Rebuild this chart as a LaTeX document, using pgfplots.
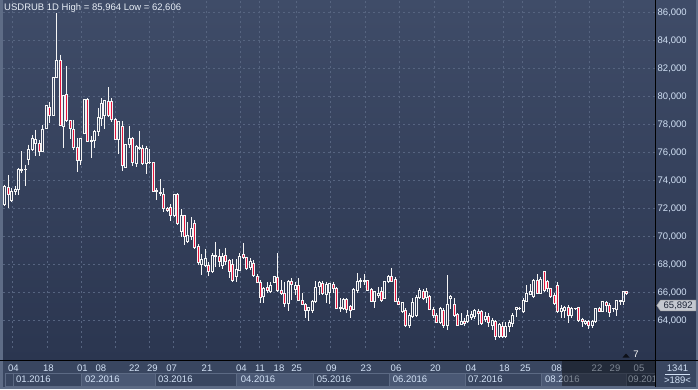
\documentclass[border=0pt]{standalone}
\usepackage{pgfplots}
\pgfplotsset{compat=1.18}
\usepackage{pgfplotstable}
\usepackage{fontspec}
\setmainfont{Liberation Sans}
\usetikzlibrary{shapes.symbols}
\definecolor{bgtop}{RGB}{63,76,104}
\definecolor{bgbot}{RGB}{43,54,80}
\definecolor{gridc}{RGB}{86,100,128}
\definecolor{panel}{RGB}{57,70,96}
\definecolor{boxlight}{RGB}{74,88,116}
\definecolor{boxedge}{RGB}{92,106,132}
\definecolor{framec}{RGB}{94,108,134}
\definecolor{labc}{RGB}{210,225,245}
\definecolor{cred}{RGB}{230,20,60}
\definecolor{cwhite}{RGB}{245,245,245}
\definecolor{pricebox}{RGB}{196,200,208}
\pgfplotstableread{
i O H L C
0 72.26 73.69 72.21 73.57
1 73.50 74.40 72.02 72.98
2 72.55 73.45 72.50 73.21
3 73.21 73.57 72.98 73.38
4 73.33 74.88 72.98 74.81
5 74.70 76.07 74.50 74.80
6 74.80 75.12 73.57 74.78
7 75.52 76.55 75.12 76.19
8 76.19 77.26 76.07 77.02
9 76.67 77.62 75.71 76.95
10 76.67 76.90 75.71 76.07
11 76.07 77.98 76.02 77.62
12 77.74 79.40 77.69 79.33
13 79.24 79.57 78.10 78.64
14 78.64 81.40 78.60 81.36
15 81.36 85.96 81.30 82.57
16 82.57 82.98 77.90 77.93
17 77.86 80.10 76.31 80.07
18 80.12 82.14 78.20 78.29
19 78.29 78.35 76.98 77.69
20 77.62 78.33 76.19 76.36
21 76.36 77.02 74.60 75.43
22 75.43 77.05 75.10 77.02
23 77.38 79.83 77.31 79.76
24 79.76 79.88 76.75 76.79
25 76.80 77.14 75.60 76.86
26 76.86 77.62 76.31 77.50
27 77.50 79.17 77.14 78.50
28 78.45 79.88 77.86 79.52
29 78.64 79.76 77.69 79.69
30 79.64 80.64 78.55 78.64
31 79.64 79.88 78.20 78.38
32 78.38 78.45 76.90 76.95
33 76.90 78.26 75.90 78.21
34 77.86 78.21 74.64 75.07
35 74.95 76.60 74.88 76.55
36 76.55 77.86 76.31 77.02
37 77.02 77.10 75.00 75.31
38 75.24 76.55 74.93 76.43
39 76.28 77.55 76.20 76.33
40 76.31 76.55 75.12 75.24
41 75.19 76.43 74.48 76.26
42 75.27 76.26 75.20 75.31
43 75.29 75.33 73.15 73.21
44 73.21 73.45 72.57 73.29
45 73.05 74.07 72.90 73.15
46 73.02 73.43 71.76 72.00
47 72.00 72.12 71.76 71.83
48 72.05 72.29 71.10 71.48
49 71.48 73.05 71.40 73.00
50 73.00 73.07 70.81 70.93
51 70.33 71.95 69.98 71.48
52 71.48 71.55 69.38 69.98
53 69.62 71.00 69.57 70.10
54 69.98 71.40 69.74 70.57
55 70.93 71.17 69.14 69.19
56 69.31 69.43 67.95 68.14
57 68.02 68.71 67.24 68.36
58 67.95 69.10 67.81 68.43
59 67.95 68.19 67.19 67.48
60 67.48 68.79 67.36 68.67
61 68.60 69.62 67.83 68.64
62 68.55 69.07 67.83 68.19
63 67.95 68.79 67.64 68.55
64 68.67 69.19 67.95 68.24
65 68.31 68.36 67.00 67.50
66 68.00 68.40 66.76 66.88
67 67.12 68.38 66.76 67.67
68 67.60 68.79 67.55 68.60
69 68.71 69.50 68.40 68.48
70 68.48 68.55 67.60 67.71
71 67.76 68.43 67.60 68.19
72 68.07 68.31 67.12 67.19
73 67.12 67.29 66.64 66.71
74 66.71 66.88 65.21 65.62
75 65.69 66.40 65.21 66.29
76 66.33 66.76 65.93 66.17
77 66.10 66.76 65.93 66.52
78 66.71 67.19 66.64 67.12
79 67.05 68.79 66.05 66.17
80 66.17 66.88 65.81 65.93
81 65.93 66.76 64.98 65.21
82 65.21 66.88 64.67 66.76
83 66.76 67.00 65.45 66.57
84 66.24 66.76 65.81 66.52
85 66.52 67.00 65.38 65.45
86 65.45 65.93 65.10 65.14
87 65.14 65.21 64.14 64.74
88 64.74 64.98 63.95 64.90
89 64.74 65.45 64.50 65.33
90 65.33 66.81 65.30 66.33
91 66.40 66.81 65.81 66.71
92 66.64 66.81 65.81 65.93
93 65.86 66.76 65.21 66.57
94 66.00 66.70 65.19 66.62
95 66.57 66.76 65.93 66.29
96 66.29 66.40 64.81 64.86
97 64.88 65.57 64.57 64.92
98 64.86 65.57 64.74 65.50
99 65.50 65.57 64.50 64.81
100 64.98 65.10 64.20 64.74
101 64.81 66.29 64.74 66.21
102 66.17 67.36 65.93 66.81
103 66.76 67.05 66.29 66.88
104 66.78 67.29 66.52 66.88
105 66.83 66.88 66.10 66.17
106 66.24 66.29 65.33 65.38
107 65.38 66.07 64.86 66.05
108 65.81 66.40 65.57 65.93
109 66.05 66.40 65.33 65.45
110 65.57 66.81 65.50 66.76
111 66.76 67.24 66.64 67.12
112 67.12 67.71 66.76 66.81
113 66.95 67.12 65.33 65.38
114 65.38 65.57 65.10 65.14
115 64.67 65.33 64.50 65.29
116 64.74 64.86 63.55 63.62
117 63.62 64.50 63.43 64.33
118 64.26 65.57 64.14 65.29
119 64.33 65.81 64.21 65.62
120 65.62 66.29 65.57 66.17
121 66.10 66.24 65.45 65.57
122 65.62 66.29 65.21 66.10
123 65.69 65.81 64.74 64.81
124 64.81 64.98 64.14 64.38
125 64.38 64.50 63.79 63.86
126 63.86 64.98 63.71 64.86
127 64.74 64.86 63.43 63.62
128 63.62 67.24 63.31 65.14
129 65.57 65.81 64.81 65.69
130 65.14 65.57 64.26 64.33
131 64.43 64.50 63.62 63.67
132 63.71 64.50 63.67 63.90
133 63.95 64.19 63.62 63.76
134 63.90 64.74 63.79 64.38
135 64.19 64.67 64.02 64.43
136 64.26 64.81 64.10 64.74
137 64.67 64.81 63.67 64.50
138 64.67 64.74 63.67 63.79
139 64.10 64.62 63.90 64.26
140 64.26 64.50 63.55 63.86
141 63.67 64.14 63.31 64.02
142 63.90 64.02 62.61 62.83
143 62.83 63.79 62.71 63.71
144 63.55 63.86 62.71 62.83
145 62.83 63.86 62.71 63.55
146 63.55 64.02 63.19 63.86
147 63.79 64.50 63.55 64.33
148 64.81 64.98 64.26 64.90
149 64.84 64.98 64.74 64.88
150 64.62 65.57 64.57 65.45
151 65.38 66.52 65.33 65.93
152 65.86 66.57 65.81 66.05
153 65.69 66.95 65.62 66.88
154 66.88 67.29 65.86 65.93
155 65.93 67.12 65.86 66.95
156 67.48 67.52 66.05 66.17
157 66.81 66.88 66.05 66.29
158 66.29 66.33 65.62 65.69
159 65.81 65.93 65.10 65.21
160 66.52 66.76 64.50 64.62
161 64.62 65.10 64.14 64.86
162 64.74 65.05 64.14 64.90
163 64.90 65.10 63.79 64.33
164 64.38 64.98 64.14 64.86
165 64.84 64.90 64.80 64.88
166 64.93 64.98 63.90 64.02
167 64.07 64.19 63.55 63.90
168 63.79 64.02 63.67 63.95
169 63.95 64.02 63.38 63.67
170 63.67 64.02 63.48 63.90
171 63.90 64.90 63.79 64.86
172 64.86 64.98 64.62 64.67
173 64.67 65.38 64.57 65.33
174 65.29 65.38 64.57 65.10
175 65.10 65.21 64.26 64.57
176 64.84 64.90 64.62 64.88
177 64.81 65.45 64.33 65.45
178 65.33 65.45 65.10 65.45
179 65.33 66.05 65.10 66.05
180 66.05 66.07 65.86 65.89
}\candles
\begin{document}
\begin{tikzpicture}[x=1pt,y=1pt,font=\fontsize{9.5}{10}\selectfont]
\useasboundingbox (0,0) rectangle (698,389);
\shade[top color=bgtop, bottom color=bgbot] (0,29) rectangle (698,389);
\fill[panel] (0,0) rectangle (698,29);
\begin{axis}[
  at={(3,29)}, anchor=south west, scale only axis,
  width=652pt, height=360pt,
  xmin=3, xmax=655, ymin=62, ymax=87.7142857,
  axis line style={draw=none},
  ytick={64,66,...,86},
  yticklabel pos=right,
  yticklabel style={text=labc, anchor=west, inner sep=0pt, xshift=2.5pt, font=\fontsize{9.5}{10}\selectfont},
  /pgf/number format/.cd, fixed, fixed zerofill, precision=3, use comma, assume math mode=true,
  /pgfplots/.cd,
  xtick={12.7,47,81,115,149,173,206,240,259,278,296,330,365,399,434,468,503,522,555,589,623},
  xticklabels={},
  grid=major,
  major grid style={gridc, dash pattern=on 2pt off 3pt, line width=0.8pt},
  major tick length=0pt,
  tick style={draw=none},
]
\addplot[
  scatter, only marks, mark=*, mark size=0pt, mark options={draw=none,fill=none},
  visualization depends on={14*(\thisrow{C}-\thisrow{O})\as\cdhc},
  visualization depends on={14*(\thisrow{H}-\thisrow{O})\as\cdhh},
  visualization depends on={14*(\thisrow{L}-\thisrow{O})\as\cdhl},
  scatter/@pre marker code/.code={%
    \pgfkeys{/pgf/fpu=false}%
    \pgfmathsetmacro\cdc{\cdhc}%
    \pgfmathsetmacro\cdtp{max(\cdc,0)}%
    \pgfmathsetmacro\cdbt{min(\cdc,0)}%
    \pgfmathsetmacro\cdh{\cdhh}%
    \pgfmathsetmacro\cdl{\cdhl}%
    \draw[cwhite, line width=1pt] (0pt,\cdh pt) -- (0pt,\cdtp pt) (0pt,\cdbt pt) -- (0pt,\cdl pt);%
    \ifdim\cdc pt<0pt
      \filldraw[draw=cwhite, fill=cred, line width=1pt] (-1pt,0pt) rectangle (1pt,\cdc pt);%
    \else
      \draw[cwhite, line width=1pt] (-1pt,0pt) rectangle (1pt,\cdc pt);%
    \fi
  },
  scatter/@post marker code/.code={},
] table[x expr={4.7+3.457*\thisrow{i}}, y=O] {\candles};
\end{axis}
% frame and separators
\fill[framec] (0,0) rectangle (3,389);
\fill[framec] (0,0) rectangle (698,2);
\fill[framec] (696,0) rectangle (698,389);
% month boxes
\foreach \a/\b/\c in {5/13/panel,13/81.7/panel,81.7/155/boxlight,155/236.7/panel,236.7/313.3/boxlight,313.3/389.3/panel,389.3/465/boxlight,465/541.7/panel,541.7/626/boxlight,626/655/panel}
  {\filldraw[fill=\c, draw=boxedge, line width=0.6pt] (\a,2.8) rectangle (\b,15.5);}
\foreach \x/\t in {13.3/04,48.3/18,82.3/01,101/08,134.3/22,152.3/29,171.7/07,207/21,241.3/04,260/11,279/18,296.7/25,331.3/09,366/23,396/06,435.3/20,471/04,504.3/18,525.3/25,556.7/08,597/22,615/29,639/05}
  {\node[text=labc, inner sep=0pt] at (\x,21) {\t};}
\foreach \x/\t in {16/01.2016,85/02.2016,158/03.2016,240.7/04.2016,316.7/05.2016,392.7/06.2016,468/07.2016,545/08.2016,628/09.2016}
  {\node[text=labc, inner sep=0pt, anchor=west] at (\x,9.3) {\t};}
\fill[black, opacity=0.4] (562,2.8) rectangle (655,29);
\fill[panel] (655.5,2) rectangle (696,29);
\draw[black, line width=1pt] (0,29) -- (698,29);
\draw[black, line width=1pt] (655,2) -- (655,389);
% bottom right info
\node[text=labc, inner sep=0pt] at (677.5,21) {1341};
\draw[labc, line width=0.5pt] (665,15) -- (690,15);
\node[text=labc, inner sep=0pt] at (677.5,8.8) {>189<};
% marker 7
\fill[black!70!bgbot] (622.5,31.5) -- (629.5,31.5) -- (626,35.5) -- cycle;
\node[text=white, inner sep=0pt] at (636,35) {7};
% price label
\node[signal, signal to=west, signal pointer angle=110, fill=pricebox, draw=gray!70, line width=0.5pt, inner xsep=1.5pt, inner ysep=1.5pt, minimum width=39pt, anchor=west, text={rgb,255:red,30;green,38;blue,56}] at (656.5,83.5) {65,892};
% title
\node[text={rgb,255:red,232;green,238;blue,246}, anchor=west, inner sep=0pt] at (4,381) {USDRUB 1D High = 85,964 Low = 62,606};
\end{tikzpicture}
\end{document}
